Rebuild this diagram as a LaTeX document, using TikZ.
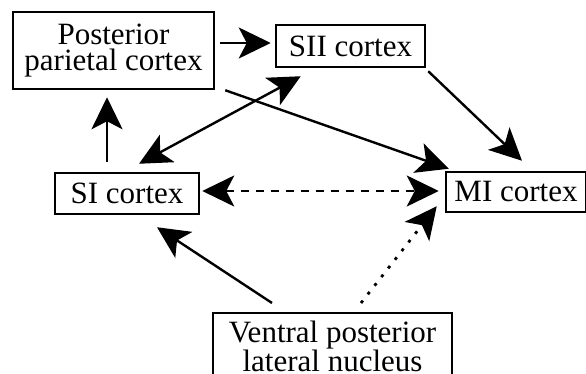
\documentclass[tikz,border=0pt]{standalone}
\usepackage{fontspec}
\setmainfont{Liberation Serif}
\usetikzlibrary{arrows.meta}
\tikzset{
  box/.style={draw, line width=2.5pt, inner sep=0pt, align=center, font=\fontsize{31}{26.5}\selectfont},
  arr/.style={line width=2.4pt, -{Stealth[length=32pt,width=31pt,inset=8pt]}},
  darr/.style={line width=2.4pt, {Stealth[length=32pt,width=31pt,inset=8pt]}-{Stealth[length=32pt,width=31pt,inset=8pt]}}
}
\begin{document}
\begin{tikzpicture}[x=1pt,y=1pt]
\useasboundingbox (0,0) rectangle (586,374);
% Boxes
\node (ppc) at (113.5,323.5) [box, minimum width=201pt, minimum height=77pt] {Posterior\\parietal cortex};
\node (sii) at (350.5,328) [box, minimum width=149pt, minimum height=42pt] {SII cortex};
\node (si) at (127,180.5) [box, minimum width=144pt, minimum height=41pt] {SI cortex};
\node (mi) at (516,182) [box, minimum width=140pt, minimum height=40pt] {MI cortex};
\node (vpl) at (332.5,62) [box, anchor=north, minimum width=239pt, inner ysep=8pt] {Ventral posterior\\lateral nucleus};
% Cortical connections
\draw[arr] ([xshift=5pt,yshift=7.5pt]ppc.east) -- ([xshift=-4pt,yshift=3pt]sii.west);
\draw[arr] ([xshift=-20pt,yshift=10pt]si.north) -- ([xshift=-6.5pt,yshift=-7pt]ppc.south);
\draw[darr] ([xshift=12pt,yshift=8pt]si.north) -- ([xshift=26pt,yshift=-8pt]sii.south west);
\draw[arr] ([xshift=10pt]ppc.south east) -- ([xshift=4pt,yshift=2pt]mi.north west);
\draw[arr] ([xshift=2pt,yshift=-3pt]sii.south east) -- ([xshift=6pt,yshift=10pt]mi.north);
\draw[darr, dash pattern=on 8pt off 7pt] ([xshift=2pt,yshift=2.5pt]si.east) -- ([xshift=-6pt,yshift=1pt]mi.west);
% Thalamic input
\draw[arr] ([xshift=-60.5pt,yshift=9pt]vpl.north) -- ([xshift=30pt,yshift=-12pt]si.south);
\draw[arr, line width=2.8pt, dash pattern=on 3pt off 8pt] ([xshift=28.5pt,yshift=9pt]vpl.north) -- ([xshift=-8pt,yshift=7pt]mi.south west);
\end{tikzpicture}
\end{document}
